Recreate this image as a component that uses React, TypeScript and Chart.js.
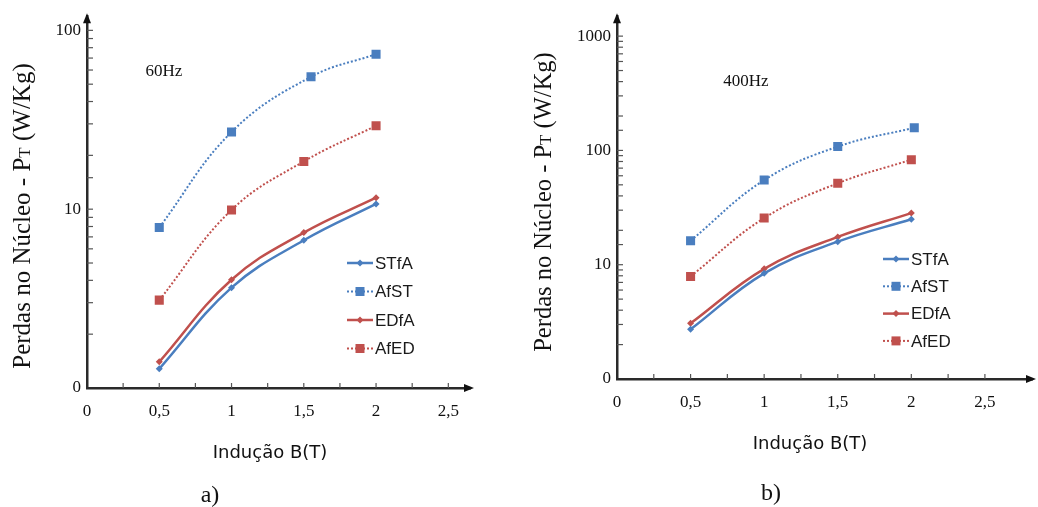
import React, { useEffect, useRef } from 'react';
import { Chart, registerables } from 'chart.js';

Chart.register(...registerables);

// ---------- data ----------
const seriesNames = ['STfA', 'AfST', 'EDfA', 'AfED'];

const xTickValues = [0, 0.25, 0.5, 0.75, 1, 1.25, 1.5, 1.75, 2, 2.25, 2.5];
const xLabelValues = [0, 0.5, 1, 1.5, 2, 2.5];
const xLabelTexts = ['0', '0,5', '1', '1,5', '2', '2,5'];

// 60 Hz (a)
const stfa60X = [0.5, 1, 1.5, 2];
const stfa60 = [1.28, 3.64, 6.7, 10.7];
const afst60X = [0.5, 1, 1.55, 2];
const afst60 = [7.9, 27, 55, 73.6];
const edfa60X = [0.5, 1, 1.5, 2];
const edfa60 = [1.4, 4.03, 7.4, 11.6];
const afed60X = [0.5, 1, 1.5, 2];
const afed60 = [3.1, 9.9, 18.5, 29.3];
const yLabelValues60 = [1, 10, 100];
const yLabelTexts60 = ['0', '10', '100'];

// 400 Hz (b)
const stfa400X = [0.5, 1, 1.5, 2];
const stfa400 = [2.72, 8.4, 15.9, 25];
const afst400X = [0.5, 1, 1.5, 2.02];
const afst400 = [16.2, 55, 108, 158];
const edfa400X = [0.5, 1, 1.5, 2];
const edfa400 = [3.07, 9.2, 17.5, 28.3];
const afed400X = [0.5, 1, 1.5, 2];
const afed400 = [7.9, 25.6, 51.6, 83];
const yLabelValues400 = [1, 10, 100, 1000];
const yLabelTexts400 = ['0', '10', '100', '1000'];

const yTitleParts = ['Perdas no Núcleo - P', 'T', ' (W/Kg)'];
const xTitle = 'Indução B(T)';

// ---------- styles ----------
const BLUE = '#4a7ebf';
const RED = '#c0504d';
const SERIF = '"Liberation Serif", "Times New Roman", serif';
const SANS = '"Liberation Sans", Arial, sans-serif';
const XSANS = '"DejaVu Sans", sans-serif';

type Panel = {
  offsetX: number;
  width: number;
  height: number;
  area: { left: number; top: number; right: number; bottom: number };
  xMax: number;
  yMax: number;
  xs: number[][];
  ys: number[][];
  yLabelValues: number[];
  yLabelTexts: string[];
  freq: string;
  freqPos: [number, number];
  xTitlePos: [number, number];
  yTitlePos: [number, number];
  yTitleSize: number;
  caption: string;
  captionPos: [number, number];
  legend: { x: number; y0: number; dy: number };
};

const panels: Panel[] = [
  {
    offsetX: 0,
    width: 519,
    height: 507,
    area: { left: 87, top: 14, right: 470, bottom: 388 },
    xMax: 2.65,
    yMax: 120,
    xs: [stfa60X, afst60X, edfa60X, afed60X],
    ys: [stfa60, afst60, edfa60, afed60],
    yLabelValues: yLabelValues60,
    yLabelTexts: yLabelTexts60,
    freq: '60Hz',
    freqPos: [164, 72],
    xTitlePos: [270, 453],
    yTitlePos: [22, 216],
    yTitleSize: 25,
    caption: 'a)',
    captionPos: [210, 496],
    legend: { x: 347, y0: 263, dy: 28.5 },
  },
  {
    offsetX: 519,
    width: 519,
    height: 507,
    area: { left: 98, top: 13, right: 513, bottom: 379 },
    xMax: 2.82,
    yMax: 1494,
    xs: [stfa400X, afst400X, edfa400X, afed400X],
    ys: [stfa400, afst400, edfa400, afed400],
    yLabelValues: yLabelValues400,
    yLabelTexts: yLabelTexts400,
    freq: '400Hz',
    freqPos: [227, 82],
    xTitlePos: [291, 444],
    yTitlePos: [24, 202],
    yTitleSize: 24.5,
    caption: 'b)',
    captionPos: [252, 494],
    legend: { x: 364, y0: 259, dy: 27.3 },
  },
];

const seriesStyle = [
  { color: BLUE, dotted: false },
  { color: BLUE, dotted: true },
  { color: RED, dotted: false },
  { color: RED, dotted: true },
];

function drawMarker(ctx: CanvasRenderingContext2D, x: number, y: number, dotted: boolean, color: string) {
  ctx.fillStyle = color;
  ctx.beginPath();
  if (dotted) {
    ctx.rect(x - 4.5, y - 4.5, 9, 9);
  } else {
    ctx.moveTo(x, y - 3.5);
    ctx.lineTo(x + 3.5, y);
    ctx.lineTo(x, y + 3.5);
    ctx.lineTo(x - 3.5, y);
    ctx.closePath();
  }
  ctx.fill();
}

function makeDecor(p: Panel) {
  return {
    id: 'decor',
    afterDraw(chart: any) {
      const ctx: CanvasRenderingContext2D = chart.ctx;
      const { left, right, top, bottom } = chart.chartArea;
      const xs = chart.scales.x;
      const ys = chart.scales.y;
      ctx.save();
      // inner tick marks
      ctx.strokeStyle = '#555';
      ctx.lineWidth = 1.2;
      xs.ticks.forEach((t: any) => {
        if (t.value <= 0) return;
        const px = xs.getPixelForValue(t.value);
        ctx.beginPath();
        ctx.moveTo(px, bottom);
        ctx.lineTo(px, bottom - 5);
        ctx.stroke();
      });
      ys.ticks.forEach((t: any) => {
        if (t.value <= ys.min || t.value >= ys.max) return;
        const py = ys.getPixelForValue(t.value);
        ctx.beginPath();
        ctx.moveTo(left, py);
        ctx.lineTo(left + 6, py);
        ctx.stroke();
      });
      // arrows
      ctx.fillStyle = '#111';
      ctx.beginPath();
      ctx.moveTo(left, top - 3);
      ctx.lineTo(left - 4, top + 7);
      ctx.lineTo(left + 4, top + 7);
      ctx.closePath();
      ctx.fill();
      ctx.beginPath();
      ctx.moveTo(right + 4, bottom);
      ctx.lineTo(right - 6, bottom - 4);
      ctx.lineTo(right - 6, bottom + 4);
      ctx.closePath();
      ctx.fill();

      // y title with small T
      ctx.save();
      ctx.translate(p.yTitlePos[0], p.yTitlePos[1]);
      ctx.rotate(-Math.PI / 2);
      const big = p.yTitleSize;
      const fonts = [`${big}px ${SERIF}`, `${Math.round(big * 0.68)}px ${SERIF}`, `${big}px ${SERIF}`];
      let total = 0;
      const widths = yTitleParts.map((t, i) => {
        ctx.font = fonts[i];
        const w = ctx.measureText(t).width;
        total += w;
        return w;
      });
      let tx = -total / 2;
      ctx.fillStyle = '#111';
      ctx.textAlign = 'left';
      ctx.textBaseline = 'alphabetic';
      yTitleParts.forEach((t, i) => {
        ctx.font = fonts[i];
        ctx.fillText(t, tx, big * 0.33);
        tx += widths[i];
      });
      ctx.restore();

      // x title, freq label, caption
      ctx.fillStyle = '#111';
      ctx.textAlign = 'center';
      ctx.textBaseline = 'middle';
      ctx.font = `18px ${XSANS}`;
      ctx.fillText(xTitle, p.xTitlePos[0], p.xTitlePos[1]);
      ctx.font = `17px ${SERIF}`;
      ctx.fillText(p.freq, p.freqPos[0], p.freqPos[1]);
      ctx.font = `24px ${SERIF}`;
      ctx.fillText(p.caption, p.captionPos[0], p.captionPos[1]);

      // legend
      chart.data.datasets.forEach((ds: any, i: number) => {
        const st = seriesStyle[i];
        const y = p.legend.y0 + i * p.legend.dy;
        const lx = p.legend.x;
        ctx.save();
        ctx.strokeStyle = st.color;
        ctx.lineWidth = st.dotted ? 2 : 2.5;
        ctx.setLineDash(st.dotted ? [2, 2] : []);
        ctx.beginPath();
        ctx.moveTo(lx, y);
        ctx.lineTo(lx + 26, y);
        ctx.stroke();
        ctx.restore();
        drawMarker(ctx, lx + 13, y, st.dotted, st.color);
        ctx.fillStyle = '#1a1a1a';
        ctx.textAlign = 'left';
        ctx.textBaseline = 'middle';
        ctx.font = `17px ${SANS}`;
        ctx.fillText(ds.label, lx + 28, y + 1);
      });
      ctx.restore();
    },
  };
}

function pickLabel(v: number, values: number[], texts: string[]) {
  for (let i = 0; i < values.length; i++) {
    if (Math.abs(values[i] - v) < 1e-6 * Math.max(1, values[i])) return texts[i];
  }
  return '';
}

function buildConfig(p: Panel): any {
  const datasets = seriesNames.map((name, i) => {
    const st = seriesStyle[i];
    return {
      label: name,
      data: p.xs[i].map((x, j) => ({ x, y: p.ys[i][j] })),
      borderColor: st.color,
      backgroundColor: st.color,
      borderWidth: st.dotted ? 2 : 2.5,
      borderDash: st.dotted ? [2, 2] : [],
      pointStyle: st.dotted ? 'rect' : 'rectRot',
      pointRadius: st.dotted ? 6.4 : 3.5,
      pointBorderWidth: 0,
      pointBackgroundColor: st.color,
      tension: 0.4,
      fill: false,
    };
  });
  return {
    type: 'line',
    data: { datasets },
    options: {
      responsive: false,
      animation: false,
      layout: {
        autoPadding: false,
        padding: { left: 0, top: p.area.top, right: p.width - p.area.right, bottom: 0 },
      },
      plugins: { legend: { display: false }, tooltip: { enabled: false } },
      scales: {
        x: {
          type: 'linear',
          min: 0,
          max: p.xMax,
          afterFit: (s: any) => {
            s.height = p.height - p.area.bottom;
          },
          afterBuildTicks: (s: any) => {
            s.ticks = xTickValues.map((v) => ({ value: v }));
          },
          grid: { display: false, drawTicks: false },
          border: { display: true, color: '#2a2a2a', width: 2.5 },
          ticks: {
            autoSkip: false,
            maxRotation: 0,
            padding: 13,
            color: '#111',
            font: { family: SERIF, size: 17 },
            callback: (v: any) => pickLabel(Number(v), xLabelValues, xLabelTexts),
          },
        },
        y: {
          type: 'logarithmic',
          min: 1,
          max: p.yMax,
          afterFit: (s: any) => {
            s.width = p.area.left;
          },
          grid: { display: false, drawTicks: false },
          border: { display: true, color: '#2a2a2a', width: 2.5 },
          ticks: {
            autoSkip: false,
            padding: 6,
            color: '#111',
            font: { family: SERIF, size: 17 },
            callback: (v: any) => pickLabel(Number(v), p.yLabelValues, p.yLabelTexts),
          },
        },
      },
    },
    plugins: [makeDecor(p)],
  };
}

function ChartPanel({ panel }: { panel: Panel }) {
  const ref = useRef<HTMLCanvasElement>(null);
  useEffect(() => {
    const chart = new Chart(ref.current as HTMLCanvasElement, buildConfig(panel));
    return () => chart.destroy();
  }, [panel]);
  return (
    <canvas
      ref={ref}
      width={panel.width}
      height={panel.height}
      style={{ position: 'absolute', left: panel.offsetX, top: 0, width: panel.width, height: panel.height }}
    />
  );
}

export default function App() {
  return (
    <div style={{ position: 'fixed', left: 0, top: 0, width: 1038, height: 507, background: '#fff', overflow: 'hidden' }}>
      {panels.map((p, i) => (
        <ChartPanel key={i} panel={p} />
      ))}
    </div>
  );
}
